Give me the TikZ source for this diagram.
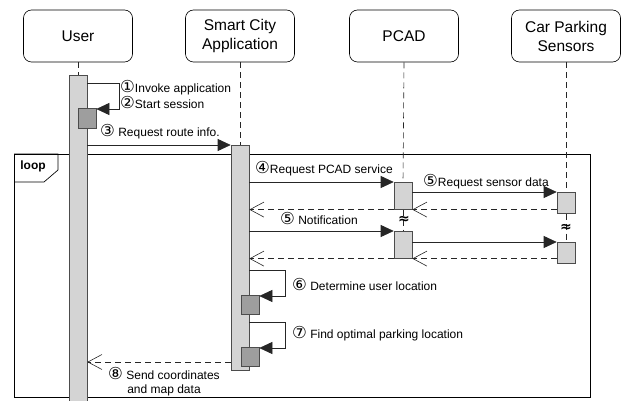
\documentclass[tikz,border=0pt]{standalone}
\usepackage{fontspec}
\setmainfont{Liberation Sans}
\newfontfamily\symfont{DejaVu Sans}
\usetikzlibrary{arrows.meta}
\newcommand{\cn}[1]{{\symfont\fontsize{16.5}{16}\selectfont #1}}
\begin{document}
\begin{tikzpicture}[x=1pt,y=-1pt,>={Triangle[length=13pt,width=12pt]},font=\fontsize{12}{14}\selectfont,
  head/.style={draw,rounded corners=8pt,minimum width=109pt,minimum height=52pt,align=center,font=\fontsize{15.5}{19}\selectfont,line width=0.6pt},
  life/.style={dash pattern=on 6pt off 4pt,black!85,line width=0.6pt},
  bar/.style={draw=black!70,fill=black!17,minimum width=18pt,inner sep=0pt,anchor=north,line width=0.6pt},
  sub/.style={draw=black!70,fill=black!38,minimum width=18pt,minimum height=19pt,inner sep=0pt,anchor=north,line width=0.6pt},
  msg/.style={->,black!85,line width=0.6pt},
  ret/.style={-{Straight Barb[length=14pt,width=15pt]},dash pattern=on 6pt off 4pt,black!85,line width=0.6pt},
  lbl/.style={anchor=west,inner sep=0pt},
  brk/.style={font=\symfont\bfseries\fontsize{14}{14}\selectfont,inner sep=0pt}]
\useasboundingbox (0,0) rectangle (623,401);
% participants
\foreach \name/\x/\txt in {user/78/User,app/240/{Smart City\\Application},pcad/404/PCAD,cps/566/{Car Parking\\Sensors}}
  \node[head] (\name) at (\x,36) {\txt};
% loop frame
\draw[line width=0.7pt] (14,154) rectangle (590,397);
\draw[line width=0.7pt] (14,154) -- (58,154) -- (58,170) -- (44,182) -- (14,182);
\node[font=\bfseries\fontsize{12}{14}\selectfont] (loop) at (33,166) {loop};
% activation bars
\node[bar,minimum height=326pt] (ub) at (78,75) {};
\node[bar,minimum height=225pt] (ab) at (240,145) {};
\node[bar,minimum height=27pt] (pb1) at (403,182) {};
\node[bar,minimum height=21pt] (cb1) at (566,192) {};
\node[bar,minimum height=27pt] (pb2) at (403,231) {};
\node[bar,minimum height=21pt] (cb2) at (566,242) {};
\node[sub,minimum height=20pt] (us) at (87,108) {};
\node[sub] (as1) at (250,295) {};
\node[sub] (as2) at (250,347) {};
% lifelines
\draw[life] (user.south) -- (ub.north);
\draw[life] (app.south) -- (ab.north);
\draw[life] (pcad.south) -- (pb1.north);
\draw[life] (pb1.south) -- (pb2.north);
\draw[life] (cps.south) -- (cb1.north);
\draw[life] (cb1.south) -- (cb2.north);
\node[brk] (gap1) at (404,220) {≈};
\node[brk] (gap2) at (566,228) {≈};
% messages
\draw[msg] (ub.east |- 0,83) -- ++(32,0) |- ([yshift=-1pt]us.north east);
\draw[msg] (ub.east |- ab.north) -- (ab.north west);
\draw[msg] (ab.east |- pb1.north) -- (pb1.north west);
\draw[msg] (pb1.east |- cb1.north) -- (cb1.north west);
\draw[ret] (cb1.west |- pb1.south) -- (pb1.south east);
\draw[ret] (pb1.south west) -- (ab.east |- pb1.south);
\draw[msg] (ab.east |- pb2.north) -- (pb2.north west);
\draw[msg] (pb2.east |- cb2.north) -- (cb2.north west);
\draw[ret] (cb2.west |- pb2.south) -- (pb2.south east);
\draw[ret] (pb2.south west) -- (ab.east |- pb2.south);
\draw[msg] (ab.east |- 0,270) -- ++(36,0) |- ([yshift=-1pt]as1.north east);
\draw[msg] (ab.east |- 0,322) -- ++(36,0) |- ([yshift=-1pt]as2.north east);
\draw[ret] (ab.west |- 0,362) -- (ub.east |- 0,362);
% labels
\node[lbl] (t1) at (120,88) {\cn{①}Invoke application};
\node[lbl] (t2) at (120,102) {\cn{②}Start session};
\node[lbl] (t3) at (100,132) {\cn{③} Request route info.};
\node[lbl] (t4) at (255,169) {\cn{④}Request PCAD service};
\node[lbl] (t5) at (423,182) {\cn{⑤}Request sensor data};
\node[lbl] (t5b) at (280,218) {\cn{⑤} Notification};
\node[lbl] (t6) at (292,284) {\cn{⑥} Determine user location};
\node[lbl] (t7) at (292,334) {\cn{⑦} Find optimal parking location};
\node[align=center,inner sep=0pt] (t8) at (164,382) {\cn{⑧} Send coordinates\\and map data};
\end{tikzpicture}
\end{document}
